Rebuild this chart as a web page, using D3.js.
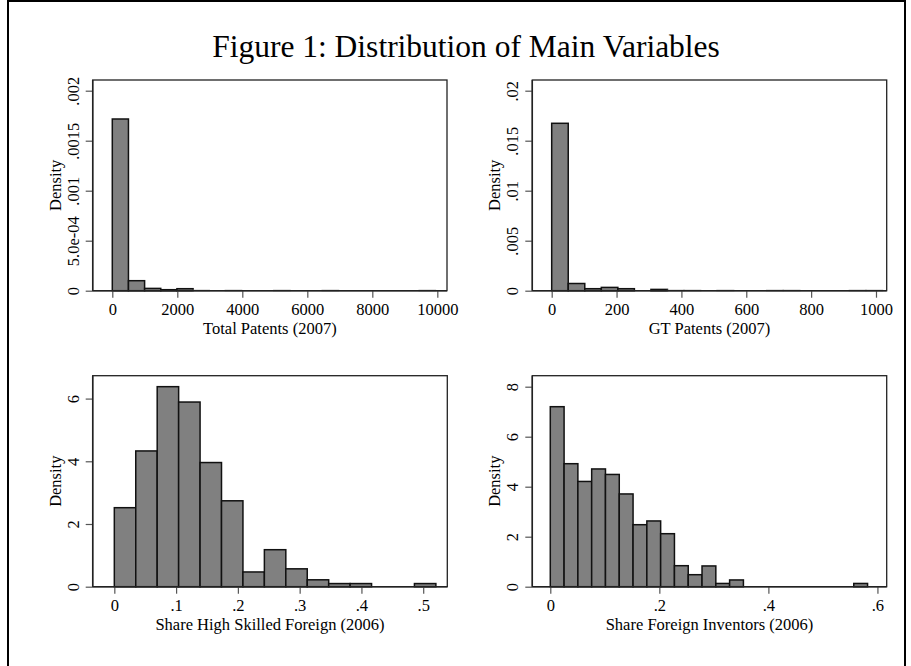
<!DOCTYPE html>
<html>
<head>
<meta charset="utf-8">
<script src="https://cdn.jsdelivr.net/npm/d3@7"></script>
<style>
  body { margin: 0; background: #fff; }
  text { font-family: "Liberation Serif", "Times New Roman", serif; fill: #000; }
</style>
</head>
<body>
<div id="chart"></div>
<script>
var svgWidth = 911;
var svgHeight = 666;

// histogram densities
var totalDensity = [0.001717, 0.0001, 0.000023, 0.00001, 0.00002, 0.000002, 0, 0.000002, 0, 0,
                    0.000002, 0, 0, 0.000002, 0, 0, 0, 0, 0, 0.000002];
var totalBinWidth = 497;
var totalTicks = [0, 2000, 4000, 6000, 8000, 10000];
var totalYTicks = [0, 0.0005, 0.001, 0.0015, 0.002];
var totalYLabels = ["0", "5.0e-04", ".001", ".0015", ".002"];

var gtDensity = [0.01674, 0.00072, 0.0002, 0.00033, 0.0002, 0, 0.00013, 0.00002, 0.00002, 0,
                 0.00002, 0, 0, 0.00002, 0.00002, 0, 0, 0, 0.00002, 0.00002];
var gtBinWidth = 51;
var gtTicks = [0, 200, 400, 600, 800, 1000];
var gtYTicks = [0, 0.005, 0.01, 0.015, 0.02];
var gtYLabels = ["0", ".005", ".01", ".015", ".02"];

var skilledDensity = [2.52, 4.33, 6.38, 5.89, 3.96, 2.74, 0.47, 1.18, 0.57, 0.22, 0.10, 0.10, 0, 0, 0.10];
var skilledBinWidth = 0.0347;
var skilledTicks = [0, 0.1, 0.2, 0.3, 0.4, 0.5];
var skilledXLabels = ["0", ".1", ".2", ".3", ".4", ".5"];
var skilledYTicks = [0, 2, 4, 6];

var inventorDensity = [7.2, 4.92, 4.21, 4.71, 4.49, 3.71, 2.48, 2.63, 2.12, 0.84, 0.48, 0.83,
                       0.13, 0.27, 0, 0, 0, 0, 0, 0, 0, 0, 0.13];
var inventorBinWidth = 0.0253;
var inventorTicks = [0, 0.2, 0.4, 0.6];
var inventorXLabels = ["0", ".2", ".4", ".6"];
var inventorYTicks = [0, 2, 4, 6, 8];

var svg = d3.select("#chart")
    .append("svg")
    .attr("width", svgWidth)
    .attr("height", svgHeight);

// outer frame
svg.append("rect")
    .attr("x", 8).attr("y", 1)
    .attr("width", 897).attr("height", 680)
    .attr("fill", "none")
    .attr("stroke", "#000")
    .attr("stroke-width", 2);

svg.append("text")
    .attr("x", 466)
    .attr("y", 57)
    .attr("text-anchor", "middle")
    .style("font-size", "31.5px")
    .text("Figure 1: Distribution of Main Variables");

function panel(opt) {
    var w = opt.right - opt.left;
    var h = opt.bottom - opt.top;
    var g = svg.append("g").attr("transform", `translate(${opt.left}, ${opt.top})`);

    var x = d3.scaleLinear().domain(opt.xDomain).range([0, w]);
    var y = d3.scaleLinear().domain(opt.yDomain).range([h, 0]);

    g.append("rect")
        .attr("width", w).attr("height", h)
        .attr("fill", "#fff")
        .attr("stroke", "#222")
        .attr("stroke-width", 1.3);

    // bars; near-zero bins show up as faint grey slivers
    g.selectAll("rect.bar")
        .data(opt.values)
        .enter()
        .append("rect")
        .attr("class", "bar")
        .attr("x", (d, i) => x(i * opt.binWidth))
        .attr("width", (d, i) => x((i + 1) * opt.binWidth) - x(i * opt.binWidth))
        .attr("y", d => y(d))
        .attr("height", d => y(0) - y(d))
        .attr("fill", "#808080")
        .attr("stroke", d => d <= 0 ? "none" : (y(0) - y(d) < 0.5 ? "#888" : "#111"))
        .attr("stroke-width", 1.5);

    var bottomAxis = d3.axisBottom(x)
        .tickValues(opt.xTicks)
        .tickSize(7)
        .tickFormat((d, i) => opt.xLabels ? opt.xLabels[i] : d);
    var leftAxis = d3.axisLeft(y)
        .tickValues(opt.yTicks)
        .tickSize(7)
        .tickFormat((d, i) => opt.yLabels ? opt.yLabels[i] : d);

    var xg = g.append("g")
        .attr("transform", `translate(0, ${h})`)
        .call(bottomAxis);
    xg.select(".domain").remove();
    xg.selectAll("line").attr("stroke", "#555").attr("stroke-width", 1.2);
    xg.selectAll("text")
        .attr("y", 24).attr("dy", 0)
        .style("font-size", "16.5px");

    var yg = g.append("g").call(leftAxis);
    yg.select(".domain").remove();
    yg.selectAll("line").attr("stroke", "#555").attr("stroke-width", 1.2);
    yg.selectAll("text")
        .attr("x", 0).attr("dy", 0)
        .attr("text-anchor", "middle")
        .attr("transform", "translate(-14, 0) rotate(-90)")
        .style("font-size", "16.5px");

    // left and bottom axis lines over bars
    g.append("line").attr("x1", 0).attr("x2", w).attr("y1", h).attr("y2", h)
        .attr("stroke", "#222").attr("stroke-width", 1.5);
    g.append("line").attr("x1", 0).attr("x2", 0).attr("y1", 0).attr("y2", h)
        .attr("stroke", "#222").attr("stroke-width", 1.5);

    g.append("text")
        .attr("transform", `translate(-32, ${h / 2}) rotate(-90)`)
        .attr("text-anchor", "middle")
        .style("font-size", "16.5px")
        .text("Density");

    g.append("text")
        .attr("x", w / 2)
        .attr("y", h + 43)
        .attr("text-anchor", "middle")
        .style("font-size", "16.5px")
        .text(opt.title);
}

panel({
    left: 92.7, right: 447, top: 80, bottom: 290.7,
    xDomain: [-603, 10298], yDomain: [0, 0.002107],
    values: totalDensity, binWidth: totalBinWidth,
    xTicks: totalTicks, yTicks: totalYTicks, yLabels: totalYLabels,
    title: "Total Patents (2007)"
});

panel({
    left: 532.3, right: 886.7, top: 80, bottom: 290.7,
    xDomain: [-59.8, 1033], yDomain: [0, 0.02107],
    values: gtDensity, binWidth: gtBinWidth,
    xTicks: gtTicks, yTicks: gtYTicks, yLabels: gtYLabels,
    title: "GT Patents (2007)"
});

panel({
    left: 92.7, right: 447.3, top: 375.7, bottom: 586.7,
    xDomain: [-0.035, 0.539], yDomain: [0, 6.73],
    values: skilledDensity, binWidth: skilledBinWidth,
    xTicks: skilledTicks, xLabels: skilledXLabels, yTicks: skilledYTicks,
    title: "Share High Skilled Foreign (2006)"
});

panel({
    left: 532.3, right: 886.7, top: 375.7, bottom: 586.7,
    xDomain: [-0.033, 0.617], yDomain: [0, 8.44],
    values: inventorDensity, binWidth: inventorBinWidth,
    xTicks: inventorTicks, xLabels: inventorXLabels, yTicks: inventorYTicks,
    title: "Share Foreign Inventors (2006)"
});
</script>
</body>
</html>
